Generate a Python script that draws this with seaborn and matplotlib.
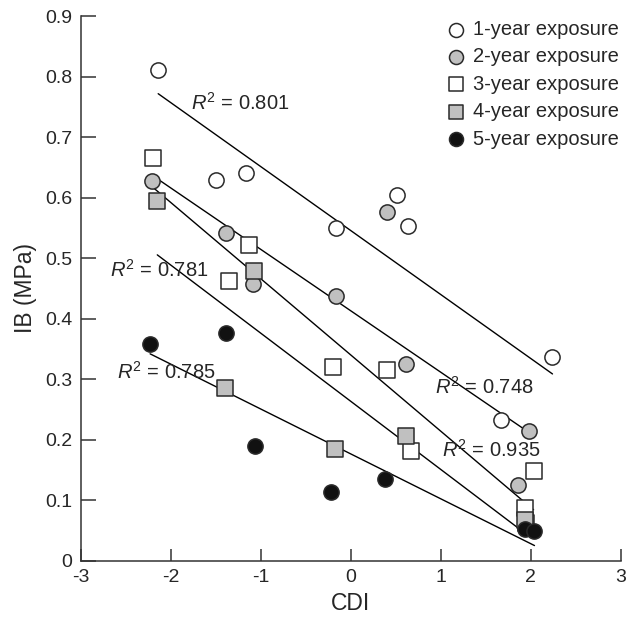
import numpy as np
import pandas as pd
import matplotlib
matplotlib.use("Agg")
import matplotlib.pyplot as plt
import seaborn as sns

# values (CDI, IB in MPa)
cdi_1 = [-2.14, -1.50, -1.17, -0.16, 0.51, 0.63, 1.67, 2.24]
ib_1 = [0.811, 0.629, 0.641, 0.550, 0.604, 0.553, 0.232, 0.336]

cdi_2 = [-2.21, -1.39, -1.09, -0.16, 0.40, 0.61, 1.98, 1.86]
ib_2 = [0.627, 0.541, 0.457, 0.437, 0.576, 0.326, 0.214, 0.126]

cdi_3 = [-2.20, -1.13, -1.35, -0.20, 0.40, 0.67, 2.03, 1.94]
ib_3 = [0.665, 0.521, 0.462, 0.320, 0.315, 0.181, 0.148, 0.088]

cdi_4 = [-2.15, -1.08, -1.40, -0.18, 0.61, 1.95, 1.94]
ib_4 = [0.595, 0.479, 0.285, 0.184, 0.207, 0.062, 0.067]

cdi_5 = [-2.23, -1.39, -1.06, -0.22, 0.38, 1.94, 2.04]
ib_5 = [0.358, 0.377, 0.189, 0.114, 0.136, 0.052, 0.050]

labels = ["1-year exposure", "2-year exposure", "3-year exposure",
          "4-year exposure", "5-year exposure"]
r2_text = ["0.801", "0.748", "0.935", "0.781", "0.785"]
r2_pos = [(-1.77, 0.756), (0.93, 0.287), (1.01, 0.183), (-2.68, 0.48), (-2.60, 0.312)]

groups = [(cdi_1, ib_1), (cdi_2, ib_2), (cdi_3, ib_3), (cdi_4, ib_4), (cdi_5, ib_5)]
markers = ["o", "o", "s", "s", "o"]
fills = ["white", "#c0c0c0", "white", "#c0c0c0", "#111111"]
sizes = [120, 120, 135, 135, 120]

sns.set_style("ticks")
plt.rcParams["font.family"] = ["Liberation Sans", "DejaVu Sans"]
plt.rcParams["mathtext.fontset"] = "custom"
plt.rcParams["mathtext.rm"] = "Liberation Sans"
plt.rcParams["mathtext.it"] = "Liberation Sans:italic"
plt.rcParams["axes.unicode_minus"] = False

fig = plt.figure(figsize=(6.31, 6.19), dpi=100)
ax = fig.add_axes([0.128, 0.094, 0.856, 0.880])

# regression lines first, markers on top
for x, y in groups:
    sns.regplot(x=x, y=y, ax=ax, scatter=False, ci=None, truncate=True,
                line_kws=dict(color="black", lw=1.0, zorder=2))

for (x, y), m, fc, s, lab in zip(groups, markers, fills, sizes, labels):
    sns.scatterplot(x=x, y=y, ax=ax, marker=m, s=s, color=fc,
                    edgecolor="#2a2a2a", linewidth=1.1, zorder=3, label=lab)

for txt, (tx, ty) in zip(r2_text, r2_pos):
    ax.text(tx, ty, r"$R^2$ = " + txt, fontsize=14.5, va="center", ha="left")

ax.set_xlim(-3, 3)
ax.set_ylim(0, 0.9)
ax.set_xticks(range(-3, 4))
ax.set_xticklabels([str(v) for v in range(-3, 4)])
yt = np.round(np.arange(0, 0.91, 0.1), 1)
ax.set_yticks(yt)
ax.set_yticklabels(["0"] + [f"{v:.1f}" for v in yt[1:]])
ax.tick_params(axis="both", direction="in", labelsize=14, color="#333333",
               width=1.1, pad=6)
ax.tick_params(axis="x", length=9)
ax.tick_params(axis="y", length=11)
ax.set_xlabel("CDI", fontsize=16.5, labelpad=4)
ax.set_ylabel("IB (MPa)", fontsize=16.5, labelpad=6)
sns.despine(ax=ax)
for sp in ["left", "bottom"]:
    ax.spines[sp].set_color("#333333")
    ax.spines[sp].set_linewidth(1.1)

# drop the duplicate 4-year handle from the legend
h, l = ax.get_legend_handles_labels()
ax.legend(h[:5], l[:5], loc="upper right", bbox_to_anchor=(1.012, 1.008),
          frameon=False, fontsize=14.5, handlelength=1.0, handletextpad=0.35,
          labelspacing=0.42, borderaxespad=0.0, markerscale=0.92)

fig.savefig("out.png", dpi=100)
